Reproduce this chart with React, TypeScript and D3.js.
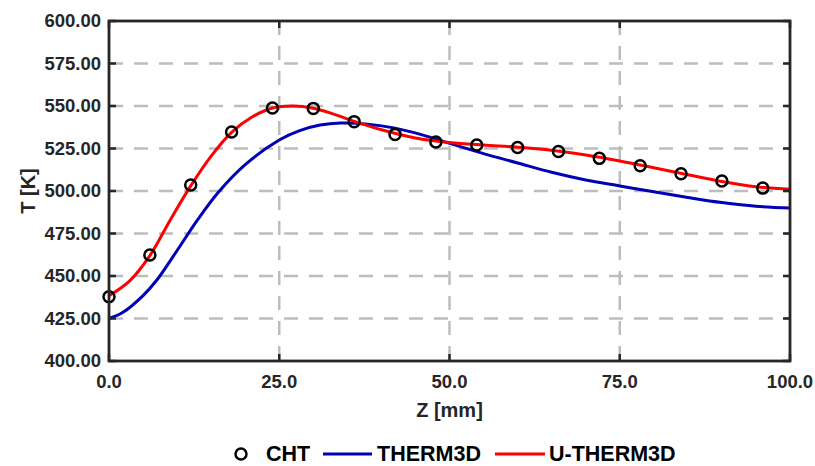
import React from "react";
import * as d3 from "d3";

const chtZ = [0, 6, 12, 18, 24, 30, 36, 42, 48, 54, 60, 66, 72, 78, 84, 90, 96];
const chtT = [437.8, 462.4, 503.5, 534.7, 548.8, 548.6, 540.8, 533.3, 528.8, 527.1, 525.6, 523.2, 519.2, 514.8, 510.1, 505.9, 501.7];

const thermZ = [0, 2, 5, 7, 10, 13, 16, 20, 25, 28, 31, 34, 38, 42, 46, 50, 55, 60, 65, 70, 75, 80, 85, 90, 95, 100];
const thermT = [425, 428.5, 438.5, 447.5, 465, 483, 499, 515.5, 530, 535.5, 538.8, 540, 539.3, 537, 533, 528, 522, 516.5, 511, 506.5, 503, 499.5, 496.2, 493.2, 491, 490];

const uthermZ = [0, 3, 6, 9, 12, 15, 18, 21, 24, 27, 30, 33, 36, 40, 45, 50, 55, 60, 65, 70, 75, 80, 85, 90, 95, 100];
const uthermT = [438.4, 447, 462, 483, 503, 520.5, 534.5, 543.5, 548.8, 550, 548.7, 545.2, 541, 536, 531.2, 528.5, 527, 525.8, 524, 521.2, 517.7, 513.7, 509.6, 505.6, 502.5, 501];

const xTicks = [0, 25, 50, 75, 100];
const yTicks = [400, 425, 450, 475, 500, 525, 550, 575, 600];

const W = 815;
const H = 466;
const M = { left: 109, right: 790, top: 21, bottom: 361 };
const FONT = "'Liberation Sans', Arial, Helvetica, sans-serif";
const TXT = "#262626";

export default function App() {
  const x = d3.scaleLinear().domain([0, 100]).range([M.left, M.right]);
  const y = d3.scaleLinear().domain([400, 600]).range([M.bottom, M.top]);

  const line = d3
    .line<[number, number]>()
    .x((d) => x(d[0]))
    .y((d) => y(d[1]))
    .curve(d3.curveCatmullRom.alpha(0.5));

  const thermPath = line(thermZ.map((z, i) => [z, thermT[i]]) as [number, number][]) || "";
  const uthermPath = line(uthermZ.map((z, i) => [z, uthermT[i]]) as [number, number][]) || "";

  const gridColor = "#bdbdbd";
  const dash = "14,11";

  return (
    <svg
      width={W}
      height={H}
      style={{ position: "absolute", left: 0, top: 0, background: "#fff" }}
      fontFamily={FONT}
      fontWeight="bold"
    >
      <rect x={0} y={0} width={W} height={H} fill="#fff" />
      {yTicks.slice(1, -1).map((t) => (
        <line key={"gy" + t} x1={M.left} x2={M.right} y1={y(t)} y2={y(t)} stroke={gridColor} strokeWidth={2.5} strokeDasharray={dash} />
      ))}
      {xTicks.slice(1, -1).map((t) => (
        <line key={"gx" + t} y1={M.top} y2={M.bottom} x1={x(t)} x2={x(t)} stroke={gridColor} strokeWidth={2.5} strokeDasharray={dash} />
      ))}
      <path d={thermPath} fill="none" stroke="#0000b4" strokeWidth={3} />
      <path d={uthermPath} fill="none" stroke="#ff0000" strokeWidth={3} />
      {chtZ.map((z, i) => (
        <circle key={"c" + i} cx={x(z)} cy={y(chtT[i])} r={5.5} fill="none" stroke="#000" strokeWidth={2.5} />
      ))}
      <rect x={M.left} y={M.top} width={M.right - M.left} height={M.bottom - M.top} fill="none" stroke={TXT} strokeWidth={2.8} />
      {yTicks.map((t) => (
        <g key={"ty" + t}>
          <line x1={M.left} x2={M.left + 7} y1={y(t)} y2={y(t)} stroke={TXT} strokeWidth={2.5} />
          <line x1={M.right - 7} x2={M.right} y1={y(t)} y2={y(t)} stroke={TXT} strokeWidth={2.5} />
          <text x={M.left - 8} y={y(t)} dy="0.35em" textAnchor="end" fontSize={18.5} fill={TXT}>
            {t.toFixed(2)}
          </text>
        </g>
      ))}
      {xTicks.map((t) => (
        <g key={"tx" + t}>
          <line x1={x(t)} x2={x(t)} y1={M.bottom} y2={M.bottom - 7} stroke={TXT} strokeWidth={2.5} />
          <line x1={x(t)} x2={x(t)} y1={M.top} y2={M.top + 7} stroke={TXT} strokeWidth={2.5} />
          <text x={x(t)} y={M.bottom + 27} textAnchor="middle" fontSize={18.5} fill={TXT}>
            {t.toFixed(1)}
          </text>
        </g>
      ))}
      <text x={(M.left + M.right) / 2} y={417} textAnchor="middle" fontSize={20} fill={TXT}>
        Z [mm]
      </text>
      <text transform={`translate(35,${(M.top + M.bottom) / 2}) rotate(-90)`} textAnchor="middle" fontSize={20} fill={TXT}>
        T [K]
      </text>
      <g fontSize={21.5} fill="#000">
        <circle cx={241} cy={454} r={5.5} fill="none" stroke="#000" strokeWidth={2.5} />
        <text x={266} y={461}>CHT</text>
        <line x1={323} x2={372} y1={454} y2={454} stroke="#0000b4" strokeWidth={3} />
        <text x={377} y={461}>THERM3D</text>
        <line x1={495} x2={545} y1={454} y2={454} stroke="#ff0000" strokeWidth={3} />
        <text x={549} y={461}>U-THERM3D</text>
      </g>
    </svg>
  );
}
